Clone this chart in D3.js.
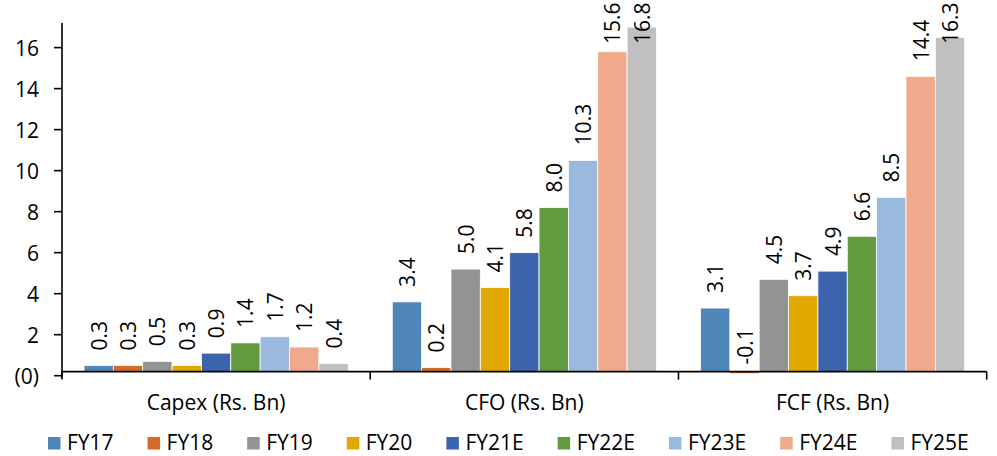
<!DOCTYPE html>
<html>
<head>
<meta charset="utf-8">
<script src="https://cdn.jsdelivr.net/npm/d3@7"></script>
<style>
  html, body { margin: 0; padding: 0; background: #fff; }
  svg { display: block; }
  text { font-family: "Open Sans", "Liberation Sans", sans-serif; fill: #000; }
</style>
</head>
<body>
<svg id="chart" width="997" height="456"></svg>
<script>
const categories = ["Capex (Rs. Bn)", "CFO (Rs. Bn)", "FCF (Rs. Bn)"];
const seriesNames = ["FY17", "FY18", "FY19", "FY20", "FY21E", "FY22E", "FY23E", "FY24E", "FY25E"];
const seriesColors = ["#4F87BA", "#D4692A", "#939393", "#E1A900", "#3C64AD", "#629A3F", "#99B9DE", "#F0A98A", "#C0C0C0"];
// values per series, one entry per category (Capex, CFO, FCF)
const FY17  = [0.3, 3.4, 3.1];
const FY18  = [0.3, 0.2, -0.1];
const FY19  = [0.5, 5.0, 4.5];
const FY20  = [0.3, 4.1, 3.7];
const FY21E = [0.9, 5.8, 4.9];
const FY22E = [1.4, 8.0, 6.6];
const FY23E = [1.7, 10.3, 8.5];
const FY24E = [1.2, 15.6, 14.4];
const FY25E = [0.4, 16.8, 16.3];
const seriesValues = [FY17, FY18, FY19, FY20, FY21E, FY22E, FY23E, FY24E, FY25E];
const yTicks = [-0.2, 1.8, 3.8, 5.8, 7.8, 9.8, 11.8, 13.8, 15.8];

const svg = d3.select("#chart");
const pLeft = 62, pRight = 986.7, pTop = 23, pBottom = 375.7;
const FS = 21;

const y = d3.scaleLinear().domain([-0.2, 17]).range([pBottom, pTop]);
const x0 = d3.scaleBand().domain(categories).range([pLeft, pRight]).paddingInner(0).paddingOuter(0);
const x1 = d3.scaleBand().domain(seriesNames).range([0, x0.bandwidth()]).paddingInner(0).paddingOuter(0.75);

const fmtTick = v => v < 0 ? "(" + Math.round(-v) + ")" : String(Math.round(v));
const fmtLabel = v => d3.format(".1f")(v).replace("\u2212", "-");

// bars
seriesNames.forEach((name, si) => {
  const g = svg.append("g");
  categories.forEach((cat, ci) => {
    const v = seriesValues[si][ci];
    const bx = x0(cat) + x1(name);
    g.append("rect")
      .attr("x", bx)
      .attr("y", y(Math.max(v, 0)))
      .attr("width", x1.bandwidth())
      .attr("height", Math.abs(y(v) - y(0)))
      .attr("fill", seriesColors[si])
      .attr("stroke", "#fff")
      .attr("stroke-width", 0.8);
  });
});

// data labels
seriesNames.forEach((name, si) => {
  categories.forEach((cat, ci) => {
    const v = seriesValues[si][ci];
    const cx = x0(cat) + x1(name) + x1.bandwidth() / 2;
    let ly = v < 0 ? y(0) - 7 : y(v) - 15;
    ly = Math.max(ly, 44);
    svg.append("text")
      .attr("transform", `translate(${cx},${ly}) rotate(-90)`)
      .attr("text-anchor", "start")
      .attr("dominant-baseline", "central")
      .attr("font-size", FS)
      .text(fmtLabel(v));
  });
});

// y axis
const yAxis = svg.append("g");
yAxis.append("line").attr("x1", pLeft).attr("x2", pLeft).attr("y1", pTop).attr("y2", pBottom + 2)
  .attr("stroke", "#000").attr("stroke-width", 1.6);
yTicks.forEach(t => {
  yAxis.append("line").attr("x1", pLeft - 8).attr("x2", pLeft).attr("y1", y(t)).attr("y2", y(t))
    .attr("stroke", "#000").attr("stroke-width", 1.6);
  yAxis.append("text").attr("x", 39).attr("y", y(t)).attr("text-anchor", "end")
    .attr("dominant-baseline", "central").attr("font-size", FS).text(fmtTick(t));
});

// x axis
const xAxis = svg.append("g");
xAxis.append("line").attr("x1", pLeft).attr("x2", pRight).attr("y1", y(0)).attr("y2", y(0))
  .attr("stroke", "#000").attr("stroke-width", 1.6);
const bounds = [pLeft].concat(categories.map(c => x0(c) + x0.bandwidth()));
bounds.forEach(bx => {
  xAxis.append("line").attr("x1", bx).attr("x2", bx).attr("y1", y(0)).attr("y2", y(0) + 8)
    .attr("stroke", "#000").attr("stroke-width", 1.6);
});
categories.forEach(c => {
  xAxis.append("text").attr("x", x0(c) + x0.bandwidth() / 2).attr("y", 410)
    .attr("text-anchor", "middle").attr("font-size", FS).text(c);
});

// legend
const legend = svg.append("g");
let lx = 48;
seriesNames.forEach((name, si) => {
  legend.append("rect").attr("x", lx).attr("y", 437).attr("width", 12.5).attr("height", 12.5)
    .attr("fill", seriesColors[si]);
  const t = legend.append("text").attr("x", lx + 19).attr("y", 449.5).attr("font-size", FS).text(name);
  const w = t.node().getComputedTextLength();
  lx = lx + 19 + w + 34;
});
</script>
</body>
</html>
